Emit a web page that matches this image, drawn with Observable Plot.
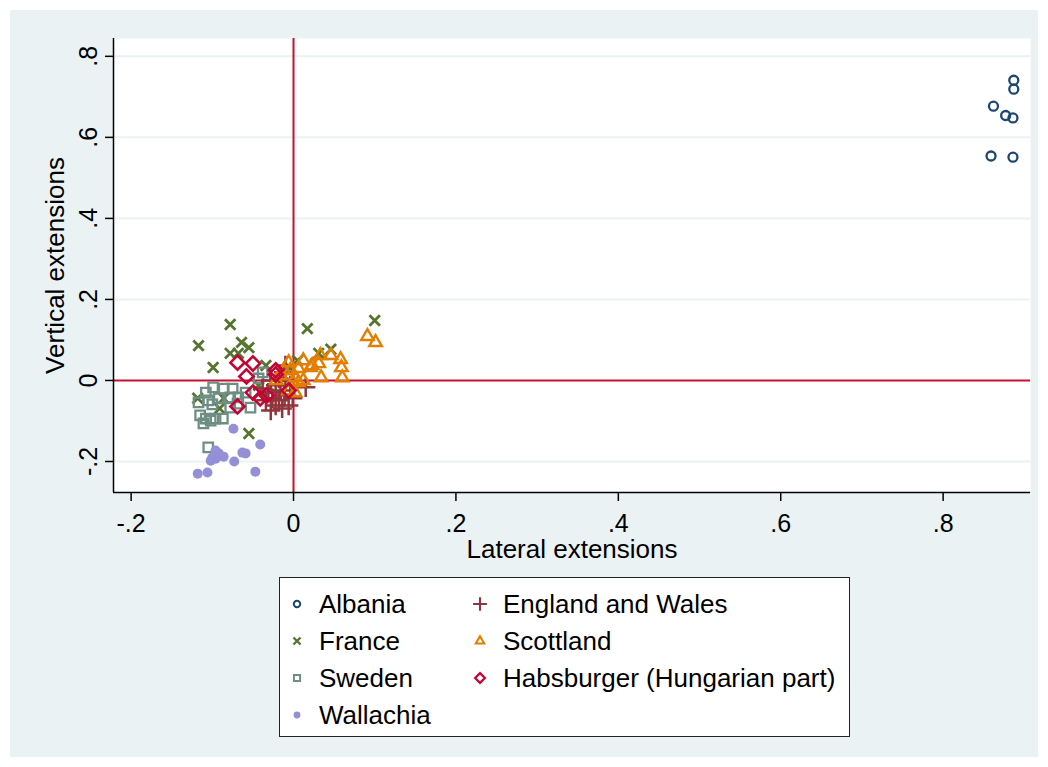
<!DOCTYPE html>
<html>
<head>
<meta charset="utf-8">
<script src="https://cdn.jsdelivr.net/npm/d3@7"></script>
<script src="https://cdn.jsdelivr.net/npm/@observablehq/plot@0.6"></script>
<style>
  html, body { margin: 0; padding: 0; background: #ffffff; }
  body { width: 1048px; height: 767px; position: relative; overflow: hidden; font-family: "Liberation Sans", Arial, sans-serif; }
  #panel { position: absolute; left: 10px; top: 10px; width: 1028px; height: 747px; background: #eaf2f3; }
  #chart { position: absolute; left: 0; top: 0; }
  #legend { position: absolute; left: 269px; top: 567px; width: 569px; height: 158px; background: #ffffff; border: 1.5px solid #222; }
  .item { position: absolute; font-size: 26px; color: #000; line-height: 30px; white-space: nowrap; }
  .sym { position: absolute; }
</style>
</head>
<body>
<div id="panel">
  <div id="chart"></div>
  <div id="legend"></div>
</div>
<script>
// ---- data (lateral extension, vertical extension) ----
const albania = [[0.887,0.741],[0.887,0.719],[0.862,0.677],[0.877,0.654],[0.886,0.648],[0.859,0.554],[0.886,0.551]];
const france = [[-0.117,0.086],[-0.078,0.138],[-0.064,0.094],[-0.055,0.081],[-0.078,0.067],[-0.068,0.067],[-0.099,0.032],[-0.034,0.037],[0.017,0.128],[0.100,0.148],[0.046,0.077],[0.031,0.067],[0.005,0.049],[-0.118,-0.044],[-0.086,-0.044],[-0.091,-0.069],[-0.043,-0.012],[-0.055,-0.131],[-0.004,0.030]];
const sweden = [[-0.038,0.020],[-0.099,-0.017],[-0.086,-0.020],[-0.075,-0.020],[-0.108,-0.030],[-0.105,-0.049],[-0.092,-0.044],[-0.078,-0.042],[-0.068,-0.042],[-0.053,-0.067],[-0.078,-0.067],[-0.069,-0.057],[-0.115,-0.086],[-0.108,-0.094],[-0.111,-0.106],[-0.102,-0.099],[-0.096,-0.094],[-0.087,-0.094],[-0.105,-0.165],[-0.059,-0.030],[-0.117,-0.054],[-0.100,-0.059],[-0.043,0.005]];
const wallachia = [[-0.074,-0.119],[-0.041,-0.158],[-0.096,-0.173],[-0.100,-0.190],[-0.102,-0.198],[-0.096,-0.193],[-0.086,-0.188],[-0.092,-0.180],[-0.063,-0.178],[-0.059,-0.180],[-0.073,-0.200],[-0.118,-0.230],[-0.106,-0.227],[-0.047,-0.225]];
const england = [[0.015,-0.017],[-0.010,0.037],[-0.028,0.000],[-0.022,-0.012],[-0.016,-0.025],[-0.031,-0.030],[-0.026,-0.044],[-0.018,-0.049],[-0.011,-0.037],[-0.006,-0.062],[-0.014,-0.069],[-0.022,-0.062],[-0.004,-0.012],[-0.010,0.000],[-0.034,-0.049],[-0.028,-0.074],[-0.001,-0.044],[-0.018,0.005],[-0.012,0.020],[-0.038,-0.020]];
const scottland = [[0.091,0.109],[0.101,0.094],[0.012,0.049],[0.023,0.037],[0.031,0.042],[0.033,0.062],[0.046,0.062],[0.058,0.052],[0.059,0.032],[0.060,0.007],[0.034,0.007],[0.021,0.032],[0.006,0.030],[-0.004,0.025],[0.002,0.007],[-0.001,-0.005],[0.006,-0.005],[0.012,0.000],[-0.006,-0.025],[0.002,-0.030],[-0.006,0.044],[-0.016,0.012],[-0.021,0.000],[-0.012,0.025]];
const habsburger = [[-0.069,0.044],[-0.050,0.042],[-0.058,0.010],[-0.022,0.025],[-0.022,0.015],[-0.050,-0.030],[-0.041,-0.044],[-0.069,-0.064],[-0.006,-0.025],[-0.033,-0.037]];

const xTicks = [-0.2, 0, 0.2, 0.4, 0.6, 0.8];
const xTickLabels = ["-.2", "0", ".2", ".4", ".6", ".8"];
const yTicks = [-0.2, 0, 0.2, 0.4, 0.6, 0.8];
const yTickLabels = ["-.2", "0", ".2", ".4", ".6", ".8"];
const xTitle = "Lateral extensions";
const yTitle = "Vertical extensions";

const series = [
  {name: "Albania", data: albania, color: "#1a476f", symbol: "circle", hollow: true, r: 4.5, sw: 2.3, lr: 3.2},
  {name: "France", data: france, color: "#55752f", symbol: "times", hollow: true, r: 4.8, sw: 2.8, lr: 3.3},
  {name: "Sweden", data: sweden, color: "#6e8e84", symbol: "square2", hollow: true, r: 6, sw: 2.3, lr: 3.9},
  {name: "Wallachia", data: wallachia, color: "#958fd8", symbol: "circle", hollow: false, r: 5, sw: 0, lr: 3.4},
  {name: "England and Wales", data: england, color: "#90353b", symbol: "plus", hollow: true, r: 6.3, sw: 2.5, lr: 4.5},
  {name: "Scottland", data: scottland, color: "#e37e00", symbol: "triangle2", hollow: true, r: 6, sw: 2.4, lr: 4},
  {name: "Habsburger (Hungarian part)", data: habsburger, color: "#c10534", symbol: "diamond2", hollow: true, r: 6.4, sw: 2.6, lr: 4.4}
];

const xDomain = [-0.2217, 0.9076];
const yDomain = [-0.2765, 0.844];
const red = "#c8102e";
const font = "'Liberation Sans', Arial, sans-serif";

const marks = [
  Plot.frame({fill: "white", stroke: null}),
  Plot.gridY(yTicks.filter(d => d !== 0), {stroke: "#eaf2f3", strokeOpacity: 1, strokeWidth: 2}),
  Plot.ruleX([0], {stroke: red, strokeWidth: 2}),
  Plot.ruleY([0], {stroke: red, strokeWidth: 2})
];
for (const s of series) {
  marks.push(Plot.dot(s.data, {
    x: d => d[0], y: d => d[1],
    symbol: () => s.symbol, r: s.r,
    fill: s.hollow ? "none" : s.color,
    stroke: s.hollow ? s.color : "none",
    strokeWidth: s.sw
  }));
}
marks.push(
  Plot.ruleX([xDomain[0]], {stroke: "#000", strokeWidth: 1.5}),
  Plot.ruleY([yDomain[0]], {stroke: "#000", strokeWidth: 1.5}),
  Plot.axisX({ticks: xTicks, tickSize: 9, tickFormat: () => "", stroke: "#000", strokeWidth: 1.5, label: null}),
  Plot.axisY({ticks: yTicks, tickSize: 8, tickFormat: () => "", stroke: "#000", strokeWidth: 1.5, label: null}),
  Plot.text(xTicks, {x: d => d, frameAnchor: "bottom", dy: 31, text: (d, i) => xTickLabels[i], fontSize: 25, fill: "#000", lineAnchor: "middle", textAnchor: "middle"}),
  Plot.text(yTicks, {y: d => d, frameAnchor: "left", dx: -25, text: (d, i) => yTickLabels[i], fontSize: 25, fill: "#000", rotate: -90, lineAnchor: "middle", textAnchor: "middle"}),
  Plot.text([xTitle], {frameAnchor: "bottom", dy: 57, text: d => d, fontSize: 26, fill: "#000", lineAnchor: "middle", textAnchor: "middle"}),
  Plot.text([yTitle], {frameAnchor: "left", dx: -58, text: d => d, fontSize: 26, fill: "#000", rotate: -90, lineAnchor: "middle", textAnchor: "middle"})
);

const chart = Plot.plot({
  width: 1028,
  height: 555,
  marginLeft: 103,
  marginRight: 8,
  marginTop: 28,
  marginBottom: 73,
  x: {domain: xDomain, axis: null},
  y: {domain: yDomain, axis: null},
  style: {background: "#eaf2f3", fontFamily: font, fontSize: "25px", color: "#000", overflow: "visible"},
  marks
});
document.getElementById("chart").appendChild(chart);

// ---- legend ----
const symMap = {circle: d3.symbolCircle, times: d3.symbolTimes, square2: d3.symbolSquare2, plus: d3.symbolPlus, triangle2: d3.symbolTriangle2, diamond2: d3.symbolDiamond2};
const legend = document.getElementById("legend");
const colX = [[17, 39], [200, 223]];
const rowY = [26, 63, 100, 137];
const order = [[0,0],[0,1],[0,2],[0,3],[1,0],[1,1],[1,2]];
series.forEach((s, i) => {
  const [c, r] = order[i];
  const svg = d3.create("svg").attr("class", "sym").attr("width", 20).attr("height", 20)
    .style("left", (colX[c][0] - 10) + "px").style("top", (rowY[r] - 10) + "px");
  svg.append("path")
    .attr("transform", "translate(10,10)")
    .attr("d", d3.symbol(symMap[s.symbol], Math.PI * s.lr * s.lr)())
    .attr("fill", s.hollow ? "none" : s.color)
    .attr("stroke", s.hollow ? s.color : "none")
    .attr("stroke-width", s.sw * 0.85);
  legend.appendChild(svg.node());
  const div = document.createElement("div");
  div.className = "item";
  div.textContent = s.name;
  div.style.left = colX[c][1] + "px";
  div.style.top = (rowY[r] - 15) + "px";
  legend.appendChild(div);
});
</script>
</body>
</html>
